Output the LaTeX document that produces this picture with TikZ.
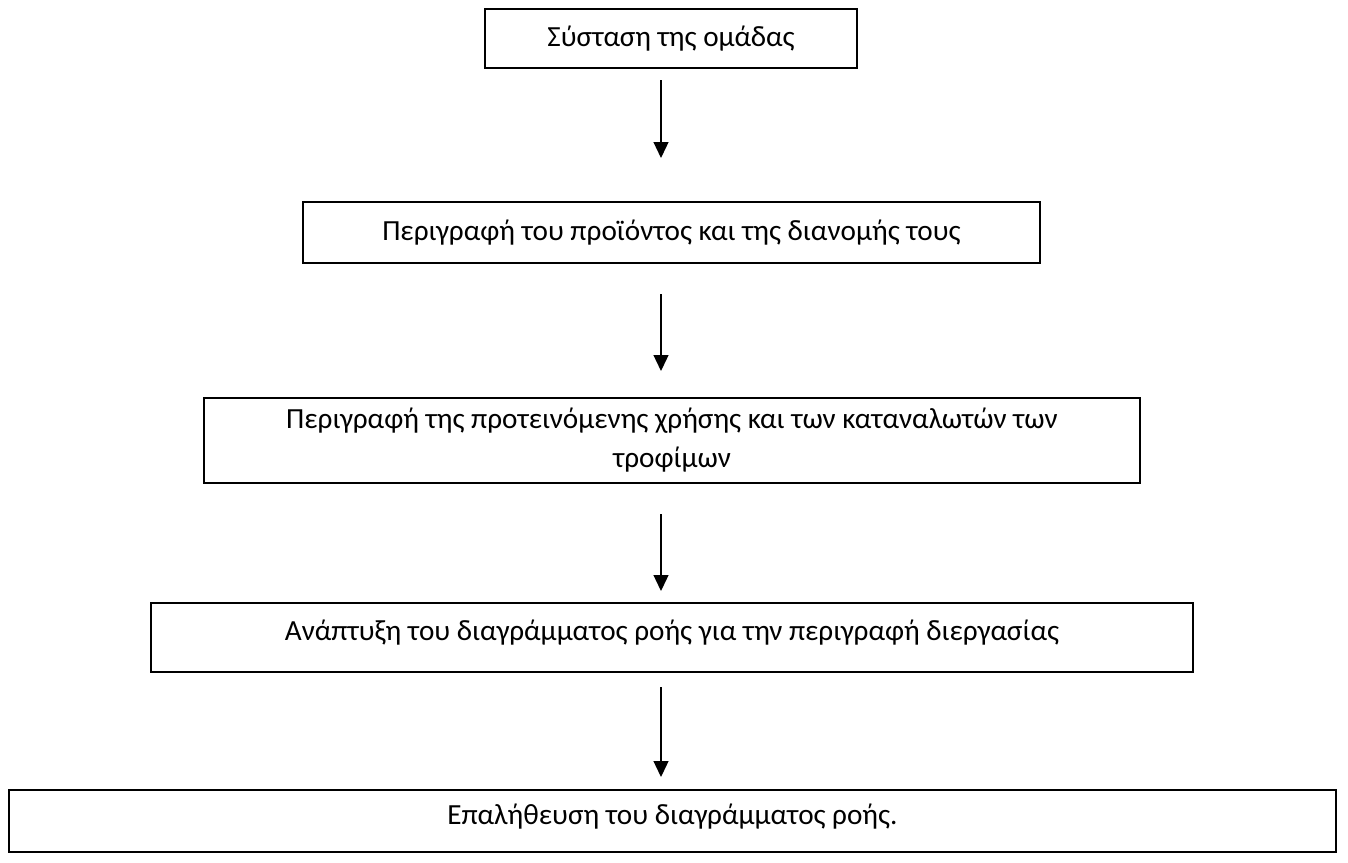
\documentclass[tikz,border=0pt]{standalone}
\usepackage{fontspec}
\setmainfont{Carlito}
\usepackage{tikz}
\usetikzlibrary{arrows.meta}

\begin{document}
\begin{tikzpicture}[x=0.5pt,y=-0.5pt,
    stage/.style={draw,line width=1pt,align=center,inner sep=0pt,
        font=\fontsize{14.6}{19.5}\selectfont},
    raised/.style={text depth=7pt},
    flow/.style={line width=0.65pt,-{Triangle[length=8pt,width=7.5pt]}}
]
\useasboundingbox (0,0) rectangle (1348,862);
\coordinate (ax) at (661,0);
\node[stage,minimum width=186pt,minimum height=29.5pt] (team) at (671,38.5)
    {Σύσταση της ομάδας};
\node[stage,minimum width=368.5pt,minimum height=30.5pt] (product) at (671.5,232.5)
    {Περιγραφή του προϊόντος και της διανομής τους};
\node[stage,minimum width=468pt,minimum height=42.5pt] (use) at (672,440.5)
    {Περιγραφή της προτεινόμενης χρήσης και των καταναλωτών των\\ τροφίμων};
\node[stage,raised,minimum width=521pt,minimum height=34.5pt] (flowchart) at (672,637.5)
    {Ανάπτυξη του διαγράμματος ροής για την περιγραφή διεργασίας};
\node[stage,raised,minimum width=663.5pt,minimum height=31pt] (verify) at (672.5,821)
    {Επαλήθευση του διαγράμματος ροής.};

\draw[flow,shorten <=5.5pt,shorten >=21.5pt] (team.south -| ax) -- (product.north -| ax);
\draw[flow,shorten <=15pt,shorten >=13pt] (product.south -| ax) -- (use.north -| ax);
\draw[flow,shorten <=15pt,shorten >=5.5pt] (use.south -| ax) -- (flowchart.north -| ax);
\draw[flow,shorten <=7pt,shorten >=6pt] (flowchart.south -| ax) -- (verify.north -| ax);
\end{tikzpicture}
\end{document}
